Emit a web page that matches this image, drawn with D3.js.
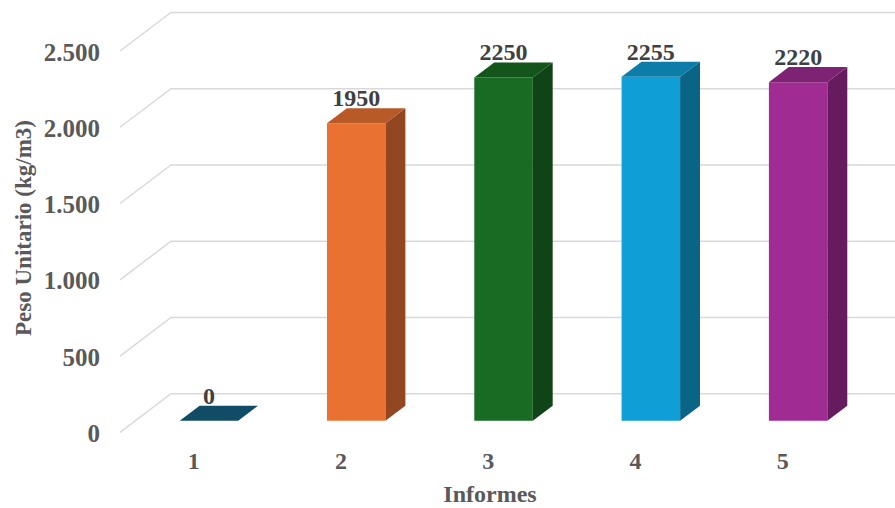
<!DOCTYPE html>
<html>
<head>
<meta charset="utf-8">
<script src="https://cdn.jsdelivr.net/npm/d3@7"></script>
<style>
  html, body { margin: 0; padding: 0; background: #ffffff; }
  svg { display: block; }
  text { font-family: "Liberation Serif", "Times New Roman", serif; font-weight: bold; }
</style>
</head>
<body>
<svg id="chart" width="895" height="508"></svg>
<script>
// Peso unitario por informe
const categories = ["1", "2", "3", "4", "5"];
const values = [0, 1950, 2250, 2255, 2220];
const barColors = ["#156082", "#E97132", "#196B24", "#0F9ED5", "#A02B93"];
const yTicks = [0, 500, 1000, 1500, 2000, 2500];
const tickLabels = ["0", "500", "1.000", "1.500", "2.000", "2.500"];
const yTitle = "Peso Unitario (kg/m3)";
const xTitle = "Informes";

const W = 895, H = 508;
const svg = d3.select("#chart");

// Front plane of the 3D plot box
const frontLeft = 120, step = 147.3;
const x = d3.scaleBand().domain(categories)
  .range([frontLeft, frontLeft + step * categories.length]);
const y = d3.scaleLinear().domain([0, 2500]).range([432.3, 51]);

// Depth vector of the box (front -> back wall)
const depth = { dx: 51, dy: -38.6 };
// Bars sit between these depth fractions
const bFront = 0.3, bBack = 0.69;
const barW = 58.5;

const shade = (c, k) => {
  const r = d3.rgb(c);
  return d3.rgb(r.r * k, r.g * k, r.b * k).formatHex();
};

// Gridlines: slanted along the side wall, then flat along the back wall
const grid = svg.append("g");
yTicks.forEach(v => {
  const x0 = frontLeft, y0 = y(v);
  const x1 = x0 + depth.dx, y1 = y0 + depth.dy;
  grid.append("path")
    .attr("d", `M${x0},${y0}L${x1},${y1}L${W},${y1}`)
    .attr("fill", "none")
    .attr("stroke", "#d9d9d9")
    .attr("stroke-width", 1.5);
});

// Value axis labels
svg.append("g").selectAll("text")
  .data(yTicks)
  .join("text")
  .attr("x", frontLeft - 20)
  .attr("y", d => y(d) + 9.5)
  .attr("text-anchor", "end")
  .attr("font-size", 25)
  .attr("fill", "#595959")
  .text((d, i) => tickLabels[i]);

// Category labels
svg.append("g").selectAll("text")
  .data(categories)
  .join("text")
  .attr("x", d => x(d) + x.bandwidth() / 2)
  .attr("y", y(0) + 37)
  .attr("text-anchor", "middle")
  .attr("font-size", 24)
  .attr("fill", "#595959")
  .text(d => d);

// 3D columns
const bars = svg.append("g");
const fdx = depth.dx * bFront, fdy = depth.dy * bFront;
const sdx = depth.dx * (bBack - bFront), sdy = depth.dy * (bBack - bFront);
categories.forEach((c, i) => {
  const cx = x(c) + x.bandwidth() / 2 + fdx;
  const xl = cx - barW / 2, xr = cx + barW / 2;
  const yb = y(0) + fdy, yt = y(values[i]) + fdy;
  const col = barColors[i];
  const g = bars.append("g");
  // front face
  g.append("path")
    .attr("d", `M${xl},${yb}L${xr},${yb}L${xr},${yt}L${xl},${yt}Z`)
    .attr("fill", col);
  // side face
  g.append("path")
    .attr("d", `M${xr},${yb}L${xr + sdx},${yb + sdy}L${xr + sdx},${yt + sdy}L${xr},${yt}Z`)
    .attr("fill", shade(col, 0.63));
  // top face
  g.append("path")
    .attr("d", `M${xl},${yt}L${xr},${yt}L${xr + sdx},${yt + sdy}L${xl + sdx},${yt + sdy}Z`)
    .attr("fill", shade(col, 0.79));
});

// Data labels
svg.append("g").selectAll("text")
  .data(values)
  .join("text")
  .attr("x", (d, i) => x(categories[i]) + x.bandwidth() / 2 + fdx)
  .attr("y", d => y(d) + fdy + sdy - 2)
  .attr("text-anchor", "middle")
  .attr("font-size", 24)
  .attr("fill", "#404040")
  .text(d => d);

// Axis titles
svg.append("text")
  .attr("transform", "translate(31,228) rotate(-90)")
  .attr("text-anchor", "middle")
  .attr("font-size", 23)
  .attr("fill", "#595959")
  .text(yTitle);

svg.append("text")
  .attr("x", 490)
  .attr("y", 502)
  .attr("text-anchor", "middle")
  .attr("font-size", 24)
  .attr("fill", "#595959")
  .text(xTitle);
</script>
</body>
</html>
